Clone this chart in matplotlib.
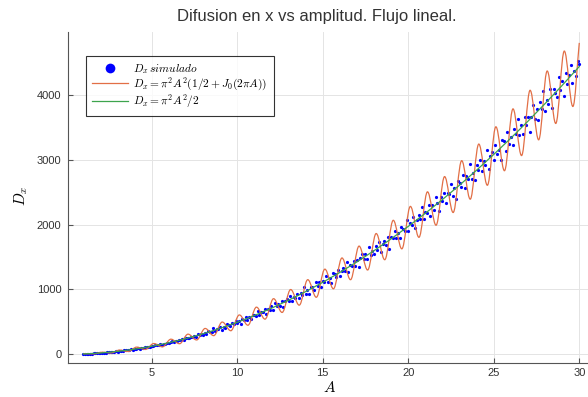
import numpy as np
import matplotlib.pyplot as plt
from matplotlib.path import Path
from matplotlib.patches import PathPatch
from matplotlib.lines import Line2D

plt.rcParams['mathtext.fontset'] = 'cm'

# simulated D_x, A from 1.0 to 30.0 every 0.1
sim_A = np.linspace(1.0, 30.0, 291)
sim_D = [
    5.1, 5.4, 7.6, 8.2, 10.7, 10.5, 12.7, 12.5, 16.9, 18.3,
    19.1, 23.3, 22.1, 27.0, 28.3, 34.4, 31.7, 36.4, 37.9, 43.6,
    40.8, 49.1, 50.5, 51.7, 60.6, 59.6, 65.4, 61.4, 74.8, 73.1,
    82.1, 82.2, 92.2, 87.4, 96.7, 97.1, 111.6, 107.3, 114.2, 112.0,
    126.3, 123.9, 139.0, 139.7, 141.2, 161.5, 147.9, 162.7, 164.2, 176.7,
    166.9, 183.6, 198.3, 191.8, 205.6, 201.4, 226.6, 220.0, 233.5, 218.6,
    249.0, 245.5, 257.5, 273.1, 263.3, 280.2, 273.3, 310.0, 299.3, 313.7,
    301.0, 330.4, 306.1, 357.3, 349.9, 345.6, 401.9, 352.9, 391.7, 385.1,
    421.5, 372.5, 423.8, 412.4, 465.6, 445.4, 428.8, 482.0, 465.1, 520.1,
    481.9, 508.2, 461.0, 545.3, 526.4, 576.4, 531.9, 575.2, 539.2, 604.8,
    599.8, 591.9, 668.3, 602.4, 655.4, 646.8, 695.8, 628.8, 696.0, 686.7,
    738.0, 685.6, 796.7, 743.4, 778.0, 745.3, 822.5, 733.0, 815.1, 848.2,
    816.8, 898.9, 821.2, 887.2, 875.4, 935.6, 861.4, 952.2, 917.4, 1040.7,
    932.9, 985.0, 928.6, 1032.9, 1035.4, 997.2, 1109.0, 1049.9, 1114.2, 1041.0,
    1131.6, 1116.7, 1213.9, 1120.2, 1170.3, 1096.5, 1250.5, 1234.6, 1199.8, 1307.9,
    1212.0, 1288.7, 1337.9, 1287.1, 1419.6, 1275.0, 1374.6, 1366.3, 1443.1, 1363.7,
    1457.0, 1350.0, 1480.8, 1540.0, 1478.1, 1548.9, 1463.7, 1660.2, 1530.5, 1586.7,
    1543.1, 1667.4, 1611.8, 1738.6, 1584.3, 1706.2, 1754.2, 1684.2, 1808.8, 1624.8,
    1811.8, 1794.2, 1905.4, 1788.6, 1869.9, 1794.7, 1959.2, 1940.7, 1896.0, 2071.2,
    1902.0, 2033.0, 1993.7, 2113.8, 1945.9, 2073.9, 2155.7, 2080.2, 2273.7, 2086.7,
    2197.3, 2182.9, 2310.7, 2138.3, 2310.6, 2230.1, 2419.9, 2331.3, 2203.8, 2426.8,
    2358.1, 2493.8, 2340.3, 2492.6, 2468.3, 2630.8, 2449.8, 2558.7, 2398.2, 2668.0,
    2642.8, 2584.5, 2770.5, 2572.2, 2751.7, 2700.3, 2932.9, 2704.3, 2803.8, 2690.6,
    2919.8, 2849.1, 2994.4, 2826.4, 2982.0, 2917.7, 3146.9, 2858.1, 3062.3, 3123.4,
    3002.0, 3228.5, 3096.8, 3158.7, 2996.4, 3312.3, 3291.1, 3145.0, 3428.6, 3252.3,
    3355.3, 3224.9, 3475.6, 3403.5, 3638.0, 3385.6, 3531.8, 3407.0, 3666.1, 3540.3,
    3669.4, 3428.2, 3661.4, 3844.8, 3631.4, 3784.6, 3621.2, 3893.2, 3792.4, 4067.6,
    3760.4, 3929.2, 3869.7, 4095.3, 3803.1, 4097.4, 4036.5, 3963.5, 4285.4, 4076.2,
    4218.7, 3980.0, 4334.6, 4166.9, 4312.0, 4458.6, 4194.1, 4376.6, 4299.1, 4519.3,
    4477.3,
]

# pi^2 A^2 (1/2 + J0(2 pi A)): start, then peak/trough pairs, then end
osc_A = [1.0, 1.117, 1.619, 2.121, 2.621, 3.122, 3.622, 4.125, 4.625,
         5.125, 5.625, 6.125, 6.625, 7.125, 7.625, 8.125, 8.625, 9.125, 9.625,
         10.125, 10.625, 11.125, 11.625, 12.125, 12.625, 13.125, 13.625,
         14.125, 14.625, 15.125, 15.625, 16.125, 16.625, 17.125, 17.625,
         18.125, 18.625, 19.125, 19.625, 20.125, 20.625, 21.125, 21.625,
         22.125, 22.625, 23.125, 23.625, 24.125, 24.625, 25.125, 25.625,
         26.125, 26.625, 27.125, 27.625, 28.125, 28.625, 29.125, 29.625, 30.0]
osc_D = [7.1, 9.8, 6.5, 31.9, 20.6, 65.4, 43.2, 110.3, 74.3,
         166.1, 114.2, 232.8, 163.0, 310.3, 220.8, 398.5, 287.5, 497.5, 363.4,
         607.1, 448.3, 727.3, 542.4, 858.1, 645.6, 999.5, 758.1,
         1151.3, 879.8, 1313.7, 1010.8, 1486.5, 1151.0, 1669.8, 1300.5,
         1863.6, 1459.3, 2067.7, 1627.5, 2282.3, 1805.0, 2507.3, 1991.8,
         2742.6, 2188.0, 2988.3, 2393.6, 3244.4, 2608.5, 3510.8, 2832.9,
         3787.6, 3066.6, 4074.7, 3309.8, 4372.1, 3562.4, 4679.8, 3824.4, 4806.0]

# pi^2 A^2 / 2 at integer A
mean_A = list(range(1, 31))
mean_D = [4.9, 19.7, 44.4, 79.0, 123.4, 177.7, 241.8, 315.8, 399.7, 493.5,
          597.1, 710.6, 834.0, 967.2, 1110.3, 1263.3, 1426.2, 1598.9, 1781.5, 1973.9,
          2176.2, 2388.4, 2610.5, 2842.4, 3084.3, 3335.9, 3597.5, 3868.9, 4150.2, 4441.3]

c_blue = 'blue'
c_orange = '#e26f46'
c_green = '#3da44d'

fig = plt.figure(figsize=(5.88, 3.97), dpi=100)
W, H = 588, 397
ax = fig.add_axes([68.3 / W, 1 - 362.7 / H, (588 - 68.3) / W, (362.7 - 32) / H])

ax.plot(sim_A, sim_D, 'o', color=c_blue, ms=2.3, mew=0, zorder=2)

# smooth oscillating curve: cubic Bezier pieces between extrema
k = 1 - 2 / np.pi
verts = [(osc_A[0], osc_D[0])]
codes = [Path.MOVETO]
n = len(osc_A)
for i in range(n - 1):
    x0, y0, x1, y1 = osc_A[i], osc_D[i], osc_A[i + 1], osc_D[i + 1]
    dx = x1 - x0
    if i == 0:
        p1 = (x0 + dx / 3, y0 + (y1 - y0) / 3)
    else:
        p1 = (x0 + k * dx, y0)
    if i == n - 2:
        p2 = (x1 - dx / 3, y1 - (y1 - y0) / 3)
    else:
        p2 = (x1 - k * dx, y1)
    verts += [p1, p2, (x1, y1)]
    codes += [Path.CURVE4] * 3
ax.add_patch(PathPatch(Path(verts, codes), fill=False, edgecolor=c_orange,
                       lw=0.9, zorder=3))

ax.plot(mean_A, mean_D, color=c_green, lw=0.9, zorder=4)

ax.set_xlim(0.123, 30.51)
ax.set_ylim(-130, 4974)
ax.set_xticks([5, 10, 15, 20, 25, 30])
ax.set_yticks([0, 1000, 2000, 3000, 4000])
for s in ['top', 'right']:
    ax.spines[s].set_visible(False)
for s in ['left', 'bottom']:
    ax.spines[s].set_color('#555555')
    ax.spines[s].set_linewidth(0.8)
ax.grid(True, color='#e4e4e4', lw=0.7)
ax.set_axisbelow(True)
ax.tick_params(direction='in', length=3.5, width=0.8, color='#555555',
               labelsize=8, labelcolor='#333333')
ax.tick_params(axis='x', pad=4)
ax.tick_params(axis='y', pad=5)
for lab in ax.get_xticklabels() + ax.get_yticklabels():
    lab.set_family('Liberation Sans')

fig.text(317 / W, 1 - 17 / H, 'Difusion en x vs amplitud. Flujo lineal.',
         ha='center', va='center', fontsize=12, color='#333333',
         family='Liberation Sans')
fig.text(330 / W, 1 - 387 / H, r'$A$', ha='center', va='center', fontsize=11)
fig.text(21 / W, 1 - 196 / H, r'$D_x$', ha='center', va='center', fontsize=11,
         rotation=90)

handles = [
    Line2D([], [], marker='o', ls='none', color=c_blue, ms=7, mew=0),
    Line2D([], [], color=c_orange, lw=0.9),
    Line2D([], [], color=c_green, lw=0.9),
]
labels = [r'$D_x\,simulado$',
          r'$D_x = \pi^2 A^2 (1/2 + J_0(2\pi A))$',
          r'$D_x = \pi^2 A^2/2$']
leg = ax.legend(handles, labels, loc='upper left',
                bbox_to_anchor=((86 - 68.3) / 519.7, 1 - (56 - 32) / 330.7),
                borderaxespad=0, fontsize=8.2, frameon=True, fancybox=False,
                handlelength=3.1, handletextpad=0.5, labelspacing=-0.05,
                borderpad=0.55)
leg.get_frame().set_edgecolor('black')
leg.get_frame().set_linewidth(0.8)

fig.savefig('out.png', dpi=100)
